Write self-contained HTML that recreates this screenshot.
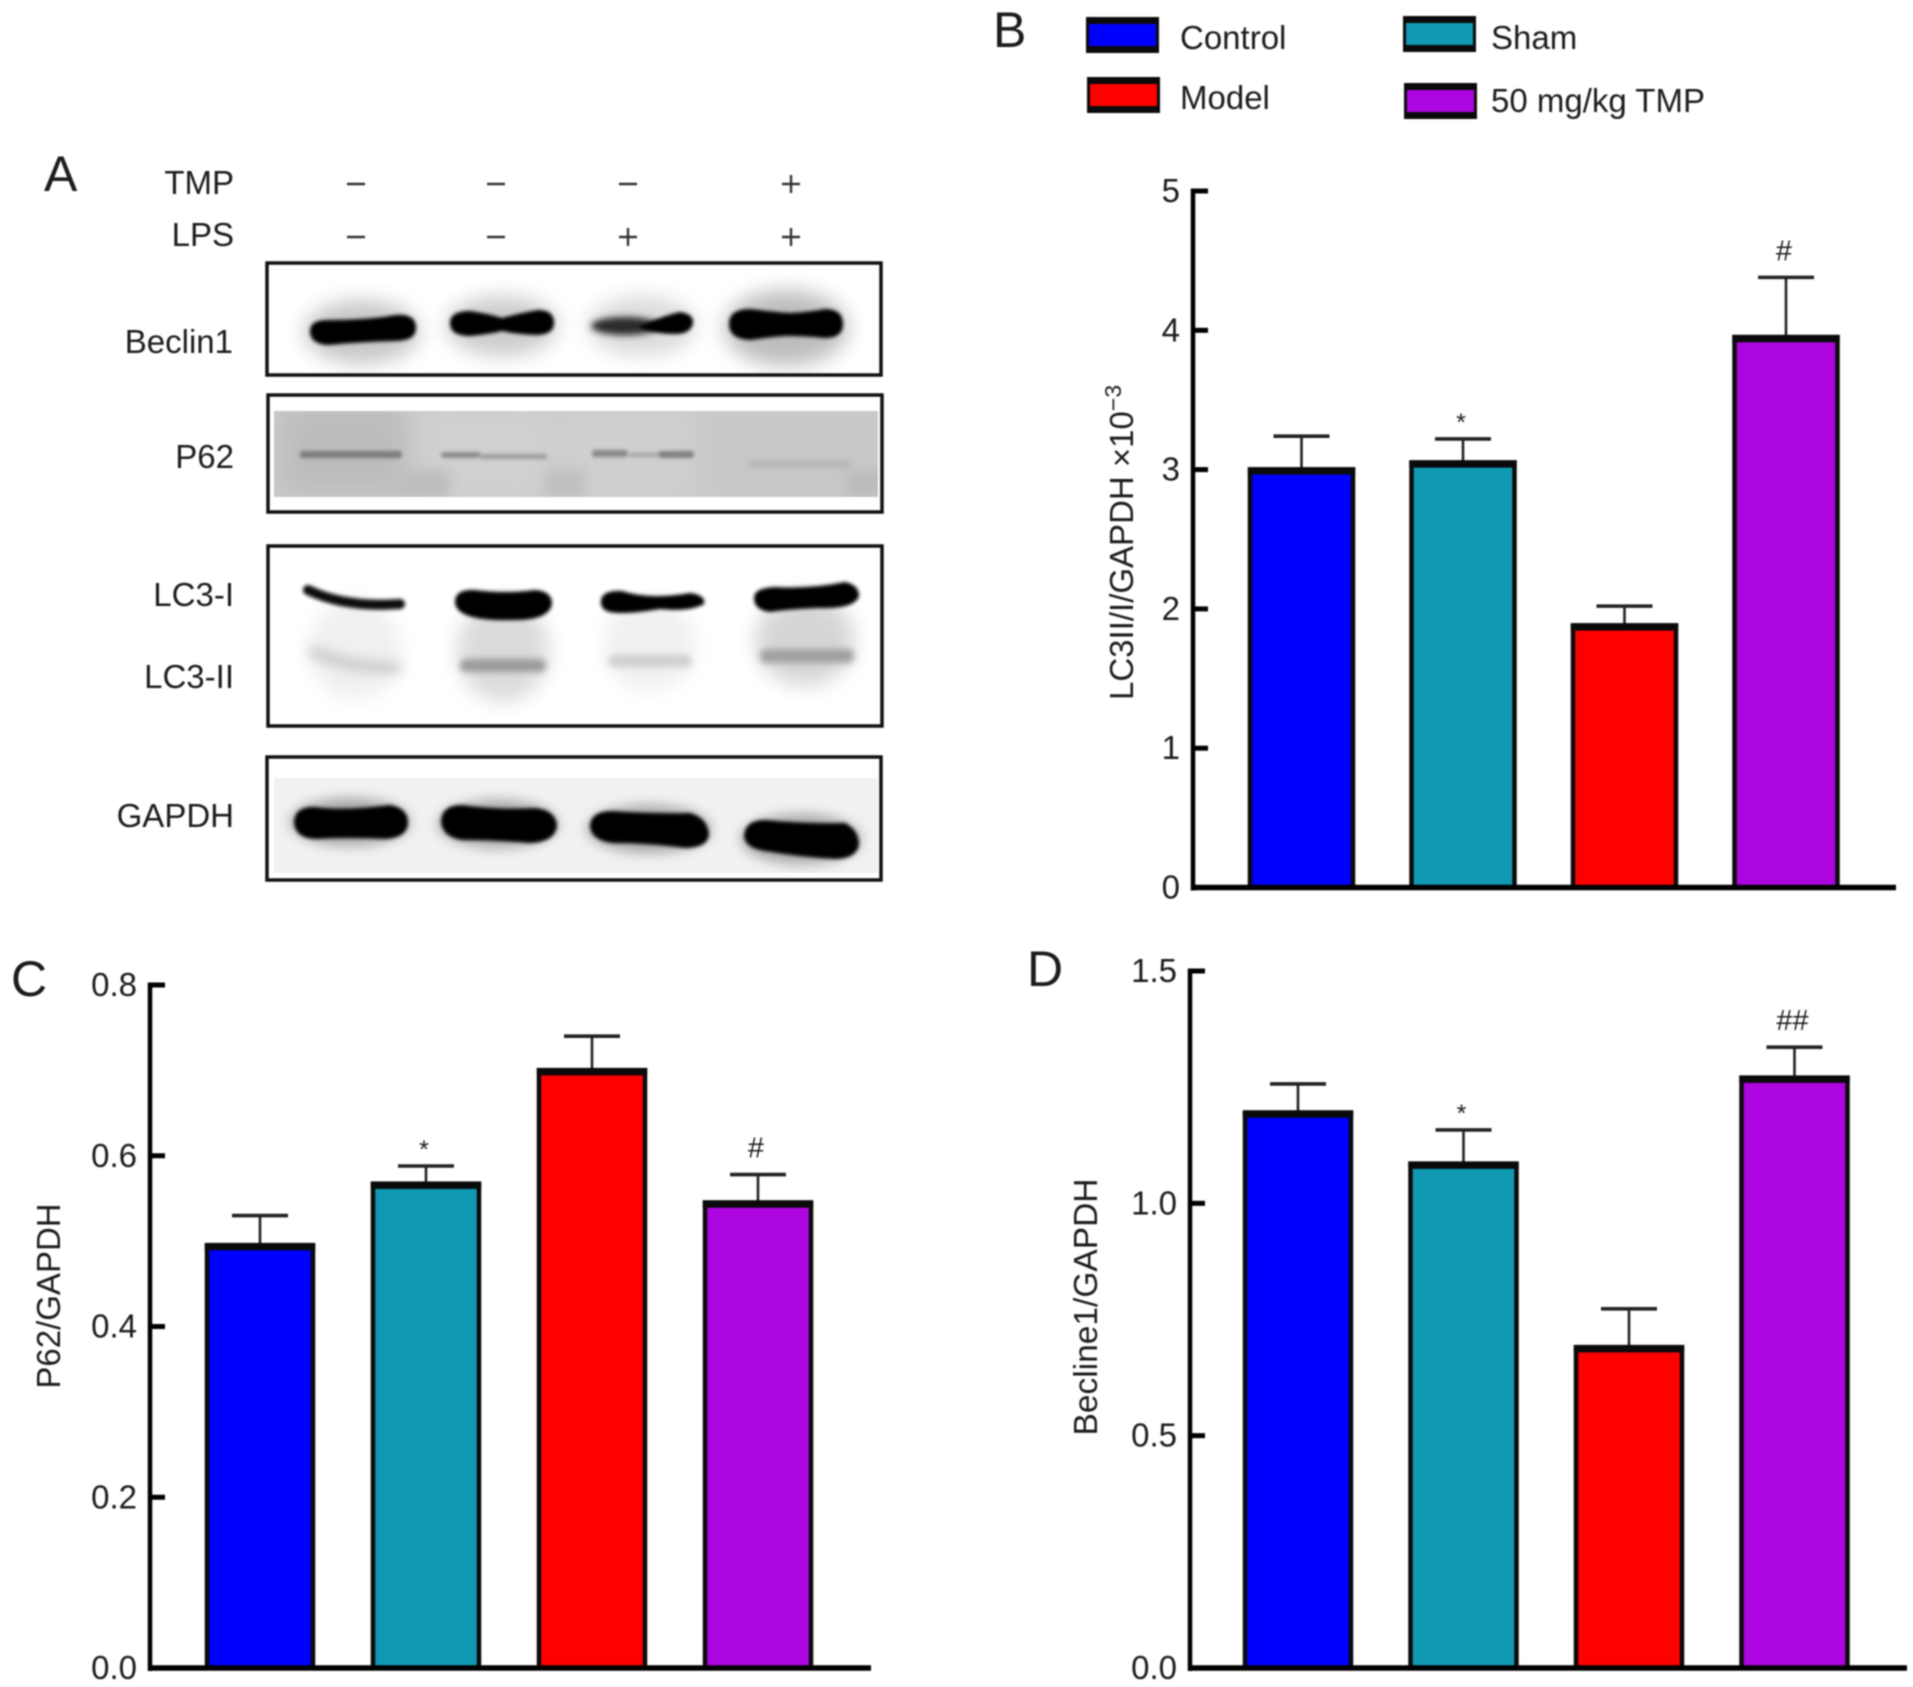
<!DOCTYPE html>
<html lang="en">
<head>
<meta charset="utf-8">
<title>Autophagy protein western blots and quantification</title>
<style>
html,body{margin:0;padding:0;background:#fff;width:1913px;height:1687px;overflow:hidden}
svg{display:block;filter:blur(0.7px)}
text{font-family:"Liberation Sans",sans-serif;fill:#1c1c1c}
</style>
</head>
<body>
<svg id="figure" xmlns="http://www.w3.org/2000/svg" width="1913" height="1687" viewBox="0 0 1913 1687">
<defs>
<filter id="b1" x="-30%" y="-80%" width="160%" height="260%"><feGaussianBlur stdDeviation="1.8"/></filter>
<filter id="b3" x="-30%" y="-120%" width="160%" height="340%"><feGaussianBlur stdDeviation="3.5"/></filter>
<filter id="b6" x="-40%" y="-150%" width="180%" height="400%"><feGaussianBlur stdDeviation="6"/></filter>
<filter id="b10" x="-50%" y="-100%" width="200%" height="300%"><feGaussianBlur stdDeviation="10"/></filter>
<filter id="b14" x="-40%" y="-60%" width="180%" height="220%"><feGaussianBlur stdDeviation="14"/></filter>
<clipPath id="clipBeclin"><rect x="268" y="264" width="612" height="110"/></clipPath>
<clipPath id="clipLc3"><rect x="269" y="547" width="613" height="178"/></clipPath>
<clipPath id="clipGapdh"><rect x="274" y="778" width="604" height="95"/></clipPath>
<clipPath id="clipP62"><rect x="274" y="411" width="604" height="86"/></clipPath>
</defs>

<g font-size="50">
<text x="44" y="191">A</text>
<text x="993" y="47">B</text>
<text x="11" y="996">C</text>
<text x="1027" y="986">D</text>
</g>

<g font-size="33">
<text x="234" y="194" text-anchor="end">TMP</text>
<text x="234" y="246" text-anchor="end">LPS</text>
<g id="signs" stroke="#333" stroke-width="2.4"></g>
</g>

<g font-size="33" text-anchor="end">
<text x="233" y="353">Beclin1</text>
<text x="234" y="468">P62</text>
<text x="234" y="606">LC3-I</text>
<text x="234" y="688">LC3-II</text>
<text x="234" y="827">GAPDH</text>
</g>

<g>
<g clip-path="url(#clipBeclin)">
<ellipse cx="362" cy="332" rx="58" ry="32" fill="#000" opacity=".22" filter="url(#b10)"/>
<ellipse cx="502" cy="326" rx="56" ry="30" fill="#000" opacity=".2" filter="url(#b10)"/>
<ellipse cx="642" cy="326" rx="54" ry="30" fill="#000" opacity=".14" filter="url(#b10)"/>
<ellipse cx="786" cy="328" rx="62" ry="38" fill="#000" opacity=".26" filter="url(#b10)"/>
<path d="M310 331Q310 320 328 320Q370 320 395 315Q416 313 416 328Q416 341 395 341Q360 342 328 345Q310 344 310 331Z" fill="#000" filter="url(#b1)"/>
<path d="M450 323Q450 311 470 311Q490 314 502 318Q520 313 538 310Q554 310 554 323Q554 335 535 335Q515 334 502 331Q490 334 470 336Q450 336 450 323Z" fill="#000" filter="url(#b1)"/>
<ellipse cx="625" cy="326" rx="34" ry="9" fill="#2a2a2a" filter="url(#b3)"/>
<path d="M638 327Q665 315 680 312Q694 314 693 323Q691 334 675 334Q655 334 638 327Z" fill="#000" filter="url(#b1)"/>
<path d="M729 324Q729 309 750 309Q775 312 790 313Q810 312 825 309Q843 309 843 324Q843 338 825 338Q805 336 787 336Q770 337 750 340Q729 339 729 324Z" fill="#000" filter="url(#b1)"/>
</g>
<rect x="267" y="263" width="614" height="112" fill="none" stroke="#111" stroke-width="3.5"/>
</g>

<g>
<rect x="274" y="411" width="604" height="86" fill="#cbcbcb"/>
<g clip-path="url(#clipP62)">
<rect x="280" y="405" width="130" height="90" fill="#bcbcbc" filter="url(#b14)"/>
<rect x="420" y="405" width="130" height="95" fill="#d0d0d0" filter="url(#b14)"/>
<rect x="560" y="405" width="130" height="95" fill="#cfcfcf" filter="url(#b14)"/>
<rect x="710" y="405" width="170" height="95" fill="#c8c8c8" filter="url(#b14)"/>
<rect x="400" y="470" width="50" height="28" fill="#bdbdbd" filter="url(#b6)"/>
<rect x="545" y="470" width="40" height="28" fill="#c0c0c0" filter="url(#b6)"/>
<rect x="845" y="470" width="40" height="28" fill="#bcbcbc" filter="url(#b6)"/>
<rect x="300" y="451" width="102" height="7" rx="3" fill="#7a7a7a" filter="url(#b1)"/>
<rect x="441" y="452" width="40" height="6" rx="3" fill="#8c8c8c" filter="url(#b1)"/>
<rect x="480" y="454" width="67" height="5" rx="2" fill="#9c9c9c" filter="url(#b1)"/>
<rect x="592" y="450" width="36" height="7" rx="3" fill="#888" filter="url(#b1)"/>
<rect x="628" y="453" width="30" height="4" rx="2" fill="#a4a4a4" filter="url(#b1)"/>
<rect x="658" y="451" width="36" height="7" rx="3" fill="#808080" filter="url(#b1)"/>
<rect x="747" y="461" width="104" height="6" rx="3" fill="#b0b0b0" filter="url(#b3)"/>
</g>
<rect x="268" y="395" width="614" height="117" fill="none" stroke="#111" stroke-width="3.5"/>
</g>

<g>
<g clip-path="url(#clipLc3)">
<ellipse cx="355" cy="650" rx="46" ry="50" fill="#000" opacity=".06" filter="url(#b10)"/>
<ellipse cx="503" cy="650" rx="46" ry="52" fill="#000" opacity=".14" filter="url(#b10)"/>
<ellipse cx="650" cy="645" rx="46" ry="46" fill="#000" opacity=".06" filter="url(#b10)"/>
<ellipse cx="805" cy="640" rx="50" ry="46" fill="#000" opacity=".16" filter="url(#b10)"/>
<path d="M308 590Q345 608 400 604" fill="none" stroke="#111" stroke-width="10" stroke-linecap="round" filter="url(#b1)"/>
<path d="M455 602Q455 589 475 590Q505 594 535 590Q552 591 552 604Q549 620 515 620Q456 622 455 602Z" fill="#000" filter="url(#b1)"/>
<path d="M601 600Q603 590 622 591Q650 600 690 593Q706 595 704 604Q690 612 660 609Q625 615 610 612Q600 610 601 600Z" fill="#000" filter="url(#b1)"/>
<path d="M754 598Q754 588 775 587Q810 589 845 582Q859 585 859 596Q855 609 820 608Q790 609 770 612Q754 610 754 598Z" fill="#000" filter="url(#b1)"/>
<path d="M310 650Q345 668 400 668" fill="none" stroke="#c4c4c4" stroke-width="10" filter="url(#b6)"/>
<rect x="460" y="659" width="86" height="13" rx="6" fill="#999" filter="url(#b3)"/>
<rect x="608" y="655" width="84" height="12" rx="6" fill="#cfcfcf" filter="url(#b3)"/>
<rect x="760" y="649" width="94" height="14" rx="6" fill="#a0a0a0" filter="url(#b3)"/>
</g>
<rect x="268" y="546" width="614" height="180" fill="none" stroke="#111" stroke-width="3.5"/>
</g>

<g>
<rect x="274" y="778" width="604" height="95" fill="#f1f1f1"/>
<g clip-path="url(#clipGapdh)">
<ellipse cx="350" cy="822" rx="60" ry="24" fill="#000" opacity=".3" filter="url(#b6)"/>
<ellipse cx="498" cy="824" rx="60" ry="24" fill="#000" opacity=".3" filter="url(#b6)"/>
<ellipse cx="649" cy="829" rx="62" ry="24" fill="#000" opacity=".3" filter="url(#b6)"/>
<ellipse cx="801" cy="839" rx="60" ry="25" fill="#000" opacity=".3" filter="url(#b6)"/>
<path d="M294 822Q295 806 315 807Q345 811 390 805Q408 808 408 823Q407 838 385 839Q350 837 315 839Q295 838 294 822Z" fill="#000" filter="url(#b1)"/>
<path d="M441 821Q442 805 462 805Q495 810 535 808Q556 810 557 826Q555 842 530 843Q495 840 462 840Q442 837 441 821Z" fill="#000" filter="url(#b1)"/>
<path d="M590 826Q591 811 612 811Q650 814 690 813Q708 818 709 835Q707 848 685 848Q650 843 612 843Q591 840 590 826Z" fill="#000" filter="url(#b1)"/>
<path d="M744 836Q745 820 765 820Q805 824 845 823Q859 830 859 845Q856 859 835 859Q800 857 765 851Q745 848 744 836Z" fill="#000" filter="url(#b1)"/>
</g>
<rect x="267" y="757" width="614" height="123" fill="none" stroke="#111" stroke-width="3.5"/>
</g>

<g id="legend"></g>

<text font-size="33" transform="translate(1133,700) rotate(-90)">LC3II/I/GAPDH ×10<tspan font-size="23" dy="-12">−3</tspan></text>
<text font-size="33" text-anchor="middle" transform="translate(60,1296) rotate(-90)">P62/GAPDH</text>
<text font-size="33.5" text-anchor="middle" transform="translate(1097,1307) rotate(-90)">Becline1/GAPDH</text>

<g id="chart-b"></g>
<g id="chart-c"></g>
<g id="chart-d"></g>
</svg>

<script>
const groups = ['Control', 'Sham', 'Model', '50 mg/kg TMP'];
const groupColors = ['#0000ff', '#1198b2', '#ff0000', '#ad06e0'];

const bValues = [3.0, 3.05, 1.88, 3.95];
const bErrorTops = [3.24, 3.22, 2.02, 4.38];
const bTickValues = [0, 1, 2, 3, 4, 5];
const bTickLabels = ['0', '1', '2', '3', '4', '5'];
const bMarks = ['', '*', '', '#'];

const cValues = [0.495, 0.567, 0.70, 0.545];
const cErrorTops = [0.53, 0.588, 0.74, 0.578];
const cTickValues = [0, 0.2, 0.4, 0.6, 0.8];
const cTickLabels = ['0.0', '0.2', '0.4', '0.6', '0.8'];
const cMarks = ['', '*', '', '#'];

const dValues = [1.195, 1.085, 0.69, 1.27];
const dErrorTops = [1.257, 1.158, 0.773, 1.336];
const dTickValues = [0, 0.5, 1.0, 1.5];
const dTickLabels = ['0.0', '0.5', '1.0', '1.5'];
const dMarks = ['', '*', '', '##'];

const tmpSigns = ['−', '−', '−', '+'];
const lpsSigns = ['−', '−', '+', '+'];

const NS = 'http://www.w3.org/2000/svg';
function make(parent, tag, attrs) {
  const el = document.createElementNS(NS, tag);
  for (const k in attrs) el.setAttribute(k, attrs[k]);
  parent.appendChild(el);
  return el;
}

function drawChart(id, prefix, values, errorTops, tickValues, tickLabels, marks, frame) {
  const root = document.getElementById(id);
  const yMax = tickValues[tickValues.length - 1];
  const y = v => frame.y0 - (v / yMax) * (frame.y0 - frame.yTop);
  const x = i => frame.barLeft + i * frame.barStep;

  values.forEach((v, i) => {
    const cx = x(i) + frame.barWidth / 2;
    const stem = make(root, 'line', {x1: cx, x2: cx, y1: y(errorTops[i]), y2: y(v), stroke: '#222', 'stroke-width': 2.6});
    
    
    const cap = make(root, 'line', {x1: cx - 28, x2: cx + 28, y1: y(errorTops[i]), y2: y(errorTops[i]), stroke: '#222', 'stroke-width': 3.6});
    
    

    const bar = make(root, 'rect', {x: x(i), y: y(v), width: frame.barWidth, height: frame.y0 - y(v), fill: groupColors[i], stroke: '#0a0a0a', 'stroke-width': 4.5});
    
    
    const lid = make(root, 'rect', {x: x(i) - 2.2, y: y(v) - 2.5, width: frame.barWidth + 4.4, height: 7.5, fill: '#0a0a0a'});
    
    

    if (marks[i]) {
      const isStar = marks[i] === '*';
      const mark = make(root, 'text', {x: cx - 2, y: y(errorTops[i]) - (isStar ? 8 : 17), 'text-anchor': 'middle', 'font-size': isStar ? 25 : 29});
      mark.textContent = marks[i];
      
      
    }
  });

  const yAxis = make(root, 'line', {x1: frame.axisX, x2: frame.axisX, y1: y(yMax) - 2.5, y2: frame.y0 + 3, stroke: '#000', 'stroke-width': 4.5});
  
  
  const xAxis = make(root, 'line', {x1: frame.axisX - 2, x2: frame.xEnd, y1: frame.y0, y2: frame.y0, stroke: '#000', 'stroke-width': 5.5});
  
  

  tickValues.forEach((t, i) => {
    if (t !== 0) {
      const tick = make(root, 'line', {x1: frame.axisX, x2: frame.axisX + 15, y1: y(t), y2: y(t), stroke: '#000', 'stroke-width': 5});
      
      
    }
    const label = make(root, 'text', {x: frame.axisX - 13, y: y(t) + 11, 'text-anchor': 'end', 'font-size': 33});
    label.textContent = tickLabels[i];
    
    
  });
}

drawChart('chart-b', 'chart-b', bValues, bErrorTops, bTickValues, bTickLabels, bMarks,
  {axisX: 1193, xEnd: 1896, y0: 887.5, yTop: 191, barLeft: 1250, barStep: 161.5, barWidth: 103});
drawChart('chart-c', 'chart-c', cValues, cErrorTops, cTickValues, cTickLabels, cMarks,
  {axisX: 150, xEnd: 871, y0: 1668, yTop: 985, barLeft: 207, barStep: 166, barWidth: 106});
drawChart('chart-d', 'chart-d', dValues, dErrorTops, dTickValues, dTickLabels, dMarks,
  {axisX: 1190, xEnd: 1907, y0: 1668, yTop: 971, barLeft: 1245, barStep: 165.5, barWidth: 106});

const legend = document.getElementById('legend');
function legendEntry(i, name, sx, sy, tx, ty) {
  const frame = make(legend, 'rect', {x: sx, y: sy, width: 73, height: 36, fill: '#0a0a0a'});
  
  
  const sw = make(legend, 'rect', {x: sx + 3, y: sy + 7, width: 67, height: 22, fill: groupColors[i]});
  
  
  const label = make(legend, 'text', {x: tx, y: ty, 'font-size': 33});
  label.textContent = groups[i];
  
  
}
legendEntry(0, 'control', 1086, 17, 1180, 49);
legendEntry(1, 'sham', 1403, 16, 1491, 49);
legendEntry(2, 'model', 1087, 77, 1180, 109);
legendEntry(3, 'tmp', 1404, 83, 1491, 112);

const signs = document.getElementById('signs');
function signRow(list, name, xs, cy) {
  list.forEach((s, i) => {
    const h = make(signs, 'line', {x1: xs(i) - 9, x2: xs(i) + 9, y1: cy, y2: cy});
    
    
    if (s === '+') {
      const v = make(signs, 'line', {x1: xs(i), x2: xs(i), y1: cy - 9, y2: cy + 9});
      
      
    }
  });
}
const laneX = i => i === 0 ? 356 : i === 1 ? 496 : i === 2 ? 628 : 791;
signRow(tmpSigns, 'tmp', laneX, 184);
signRow(lpsSigns, 'lps', laneX, 237);
</script>
</body>
</html>
